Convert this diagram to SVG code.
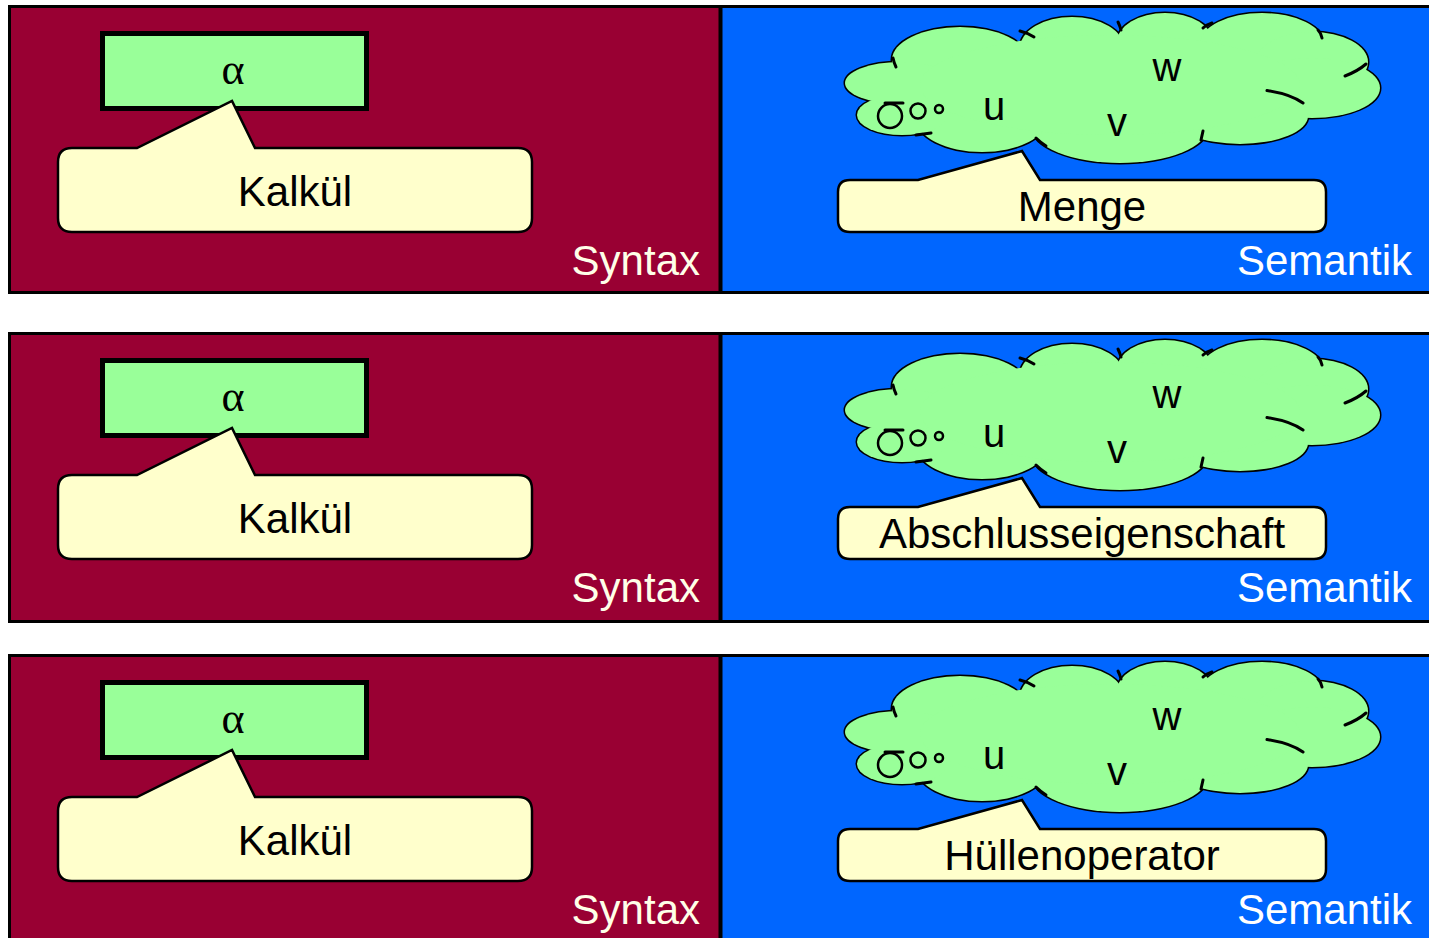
<svg xmlns="http://www.w3.org/2000/svg" xmlns:xlink="http://www.w3.org/1999/xlink" width="1429" height="938" viewBox="0 0 1429 938">
<style>
.syn{fill:#990033;stroke:#000;stroke-width:3}
.sem{fill:#0066FF;stroke:#000;stroke-width:3}
.div{stroke:#000;stroke-width:4}
.grect{fill:#99FF99;stroke:#000;stroke-width:5}
.call{fill:#FFFFCC;stroke:#000;stroke-width:2.5;stroke-linejoin:miter}
.lbl{font-family:"Liberation Sans",Arial,sans-serif;font-size:42px;fill:#000;text-anchor:middle}
.alpha{font-family:"Liberation Serif","Times New Roman",serif;font-size:44px;fill:#000;text-anchor:middle}
.var{font-family:"Liberation Sans",Arial,sans-serif;font-size:40px;fill:#000;text-anchor:middle}
.corner{font-family:"Liberation Sans",Arial,sans-serif;font-size:42px;text-anchor:end}
.cs{fill:#99FF99;stroke:#000;stroke-width:3}
.cf{fill:#99FF99;stroke:none}
.tail{fill:none;stroke:#000;stroke-width:3;stroke-linecap:round}
.bub{fill:#99FF99;stroke:#000;stroke-width:2.5}
</style>
<defs>
<g id="cloudShape">
<g class="cs">
<ellipse cx="960" cy="60" rx="68" ry="33"/>
<ellipse cx="1072" cy="48" rx="52" ry="31"/>
<ellipse cx="1165" cy="42" rx="48" ry="29"/>
<ellipse cx="1262" cy="44" rx="62" ry="31"/>
<ellipse cx="1312" cy="62" rx="56" ry="30"/>
<ellipse cx="1312" cy="88" rx="68" ry="30"/>
<ellipse cx="1240" cy="116" rx="68" ry="28"/>
<ellipse cx="1120" cy="127" rx="88" ry="36"/>
<ellipse cx="982" cy="118" rx="66" ry="34"/>
<ellipse cx="902" cy="115" rx="45" ry="20"/>
<ellipse cx="900" cy="83" rx="55" ry="21"/>
</g>
<g class="cf">
<ellipse cx="960" cy="60" rx="68" ry="33"/>
<ellipse cx="1072" cy="48" rx="52" ry="31"/>
<ellipse cx="1165" cy="42" rx="48" ry="29"/>
<ellipse cx="1262" cy="44" rx="62" ry="31"/>
<ellipse cx="1312" cy="62" rx="56" ry="30"/>
<ellipse cx="1312" cy="88" rx="68" ry="30"/>
<ellipse cx="1240" cy="116" rx="68" ry="28"/>
<ellipse cx="1120" cy="127" rx="88" ry="36"/>
<ellipse cx="982" cy="118" rx="66" ry="34"/>
<ellipse cx="902" cy="115" rx="45" ry="20"/>
<ellipse cx="900" cy="83" rx="55" ry="21"/>
<ellipse cx="1110" cy="85" rx="190" ry="50"/>
</g>
<g class="tail">
<path d="M1267,90.5 A68,28 0 0 1 1303,103"/>
<path d="M1366,64 Q1358,71 1345,76"/>
<path d="M1318,30 Q1321,33 1322,38"/>
<path d="M1212,23 Q1206,25 1203,28"/>
<path d="M1118,22 Q1120,26 1121,30"/>
<path d="M1020,31 Q1028,33 1034,37"/>
<path d="M893,58 Q894,63 896,67"/>
<path d="M885,103 L903,103"/>
<path d="M916,135 Q924,134 931,133"/>
<path d="M1036,138 Q1040,142 1046,146"/>
<path d="M1203,131 L1201,140"/>
</g>
<circle class="bub" cx="890" cy="116" r="12"/>
<circle class="bub" cx="918" cy="111" r="7.5"/>
<circle class="bub" cx="939" cy="109" r="4"/>
<text class="var" x="994" y="120">u</text>
<text class="var" x="1117" y="136">v</text>
<text class="var" x="1167" y="81">w</text>
</g>
<path id="kalkulCallout" d="M72,148 L137,148 L232,101 L255,148 L518,148 Q532,148 532,162 L532,218 Q532,232 518,232 L72,232 Q58,232 58,218 L58,162 Q58,148 72,148 Z"/>
<path id="semCallout" d="M850,180 L918,180 L1022,151 L1040,180 L1314,180 Q1326,180 1326,192 L1326,220 Q1326,232 1314,232 L850,232 Q838,232 838,220 L838,192 Q838,180 850,180 Z"/>
</defs>

<g id="row1">
<g id="r1-syntax-panel">
<rect class="syn" x="9.5" y="6.5" width="711" height="286"/>
<text class="corner" x="700" y="275" fill="#FFFFE8">Syntax</text>
</g>
<g id="r1-semantik-panel">
<rect class="sem" x="720.5" y="6.5" width="720" height="286"/>
<line class="div" x1="720.5" y1="6" x2="720.5" y2="293"/>
<text class="corner" x="1412" y="275" fill="#FFFFFF">Semantik</text>
</g>
<g id="r1-alpha">
<rect class="grect" x="102.5" y="33.5" width="264" height="75"/>
<text class="alpha" x="233" y="84">α</text>
</g>
<g id="r1-kalkul">
<use xlink:href="#kalkulCallout" class="call"/>
<text class="lbl" x="295" y="206">Kalkül</text>
</g>
<g id="r1-cloud">
<use xlink:href="#cloudShape"/>
</g>
<g id="r1-menge">
<use xlink:href="#semCallout" class="call"/>
<text class="lbl" x="1082" y="221">Menge</text>
</g>
</g>

<g id="row2" transform="translate(0,327)">
<g id="r2-syntax-panel">
<rect class="syn" x="9.5" y="6.5" width="711" height="288"/>
<text class="corner" x="700" y="275" fill="#FFFFE8">Syntax</text>
</g>
<g id="r2-semantik-panel">
<rect class="sem" x="720.5" y="6.5" width="720" height="288"/>
<line class="div" x1="720.5" y1="6" x2="720.5" y2="295"/>
<text class="corner" x="1412" y="275" fill="#FFFFFF">Semantik</text>
</g>
<g id="r2-alpha">
<rect class="grect" x="102.5" y="33.5" width="264" height="75"/>
<text class="alpha" x="233" y="84">α</text>
</g>
<g id="r2-kalkul">
<use xlink:href="#kalkulCallout" class="call"/>
<text class="lbl" x="295" y="206">Kalkül</text>
</g>
<g id="r2-cloud">
<use xlink:href="#cloudShape"/>
</g>
<g id="r2-abschluss">
<use xlink:href="#semCallout" class="call"/>
<text class="lbl" x="1082" y="221">Abschlusseigenschaft</text>
</g>
</g>

<g id="row3" transform="translate(0,649)">
<g id="r3-syntax-panel">
<rect class="syn" x="9.5" y="6.5" width="711" height="300"/>
<text class="corner" x="700" y="275" fill="#FFFFE8">Syntax</text>
</g>
<g id="r3-semantik-panel">
<rect class="sem" x="720.5" y="6.5" width="720" height="300"/>
<line class="div" x1="720.5" y1="6" x2="720.5" y2="300"/>
<text class="corner" x="1412" y="275" fill="#FFFFFF">Semantik</text>
</g>
<g id="r3-alpha">
<rect class="grect" x="102.5" y="33.5" width="264" height="75"/>
<text class="alpha" x="233" y="84">α</text>
</g>
<g id="r3-kalkul">
<use xlink:href="#kalkulCallout" class="call"/>
<text class="lbl" x="295" y="206">Kalkül</text>
</g>
<g id="r3-cloud">
<use xlink:href="#cloudShape"/>
</g>
<g id="r3-huelle">
<use xlink:href="#semCallout" class="call"/>
<text class="lbl" x="1082" y="221">Hüllenoperator</text>
</g>
</g>

<g id="connectors"/>
</svg>
